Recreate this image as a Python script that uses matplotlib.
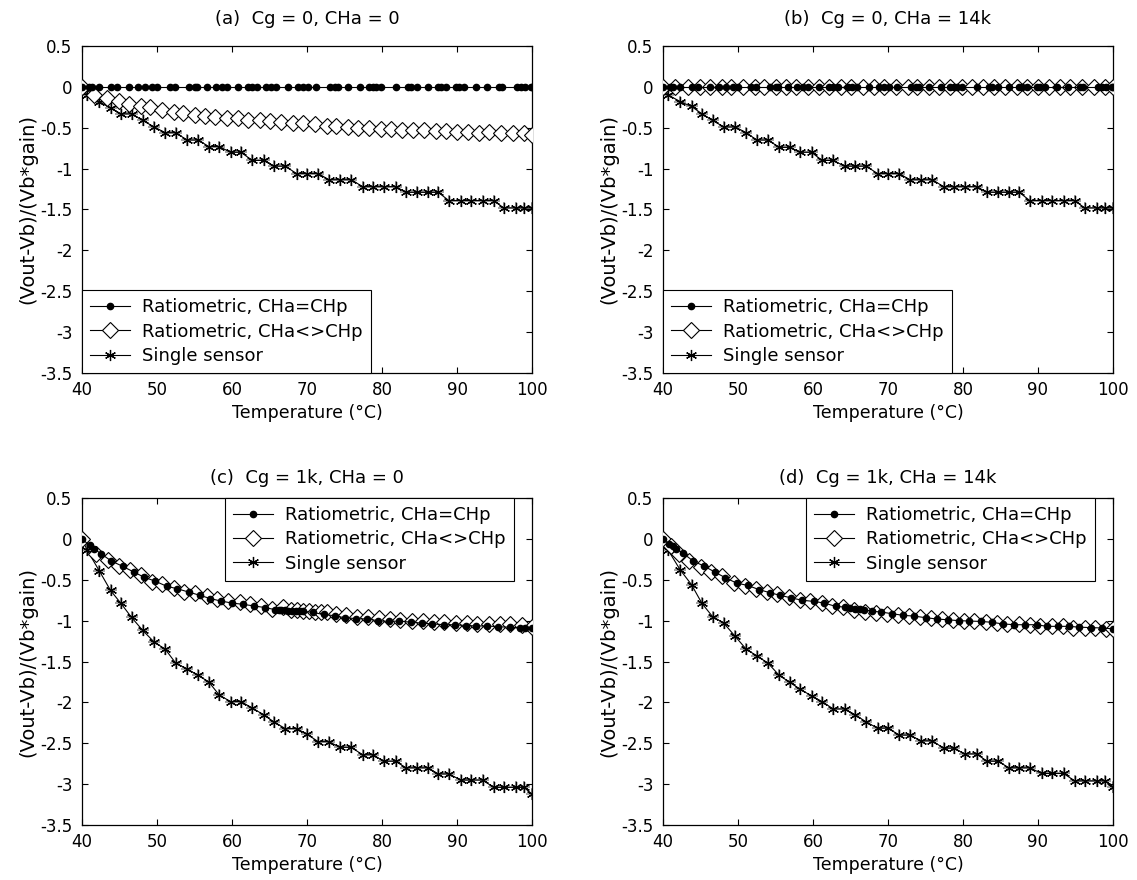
import numpy as np
import matplotlib
matplotlib.use('Agg')
import matplotlib.pyplot as plt

# temperatures of the single sensor samples (same grid in all four panels)
T_single = [40.0, 40.7, 42.3, 43.8, 45.2, 46.6, 48.1, 49.6, 51.1, 52.5,
            54.0, 55.5, 56.9, 58.3, 59.8, 61.2, 62.7, 64.2, 65.6, 67.1,
            68.6, 70.0, 71.5, 72.9, 74.4, 75.9, 77.4, 78.8, 80.2, 81.8,
            83.2, 84.7, 86.1, 87.5, 88.9, 90.5, 91.9, 93.4, 94.9, 96.2,
            97.8, 98.9, 100.0]

single_a = [0.0, -0.10, -0.18, -0.26, -0.33, -0.33, -0.41, -0.49, -0.56, -0.56,
            -0.65, -0.65, -0.73, -0.73, -0.80, -0.80, -0.90, -0.90, -0.97, -0.97,
            -1.06, -1.06, -1.06, -1.135, -1.135, -1.135, -1.22, -1.22, -1.22, -1.22,
            -1.29, -1.29, -1.29, -1.29, -1.39, -1.39, -1.39, -1.39, -1.39, -1.48,
            -1.48, -1.48, -1.48]
single_b = [0.0, -0.10, -0.18, -0.24, -0.33, -0.41, -0.49, -0.49, -0.56, -0.65,
            -0.65, -0.74, -0.74, -0.80, -0.80, -0.90, -0.90, -0.97, -0.97, -0.97,
            -1.06, -1.06, -1.06, -1.135, -1.135, -1.135, -1.22, -1.22, -1.22, -1.22,
            -1.29, -1.29, -1.29, -1.29, -1.39, -1.39, -1.39, -1.39, -1.39, -1.48,
            -1.48, -1.48, -1.48]
single_c = [0.0, -0.14, -0.39, -0.63, -0.79, -0.96, -1.12, -1.26, -1.35, -1.52,
            -1.59, -1.67, -1.75, -1.91, -1.99, -1.99, -2.07, -2.15, -2.24, -2.32,
            -2.32, -2.39, -2.48, -2.48, -2.55, -2.55, -2.64, -2.64, -2.72, -2.72,
            -2.80, -2.80, -2.80, -2.875, -2.875, -2.95, -2.95, -2.95, -3.04, -3.04,
            -3.04, -3.04, -3.12]
single_d = [0.0, -0.14, -0.38, -0.56, -0.79, -0.95, -1.03, -1.19, -1.35, -1.43,
            -1.52, -1.67, -1.755, -1.84, -1.92, -1.99, -2.08, -2.08, -2.15, -2.24,
            -2.315, -2.315, -2.40, -2.40, -2.47, -2.47, -2.56, -2.56, -2.63, -2.63,
            -2.72, -2.72, -2.80, -2.80, -2.80, -2.87, -2.87, -2.87, -2.96, -2.96,
            -2.96, -2.96, -3.03]

# ratiometric, CHa=CHp (dots)
T_dot_ab = [40.0, 40.9, 41.3, 42.2, 43.8, 44.7, 46.2, 47.5, 48.4, 49.3,
            50.0, 51.7, 52.4, 54.2, 55.1, 55.3, 56.6, 57.9, 58.6, 59.3,
            60.8, 62.1, 62.6, 63.3, 64.6, 65.2, 65.9, 67.5, 68.8, 69.5,
            70.1, 71.2, 73.0, 73.7, 74.1, 75.4, 77.0, 78.3, 78.8, 79.2,
            79.9, 81.9, 83.4, 83.8, 84.7, 86.1, 87.4, 87.8, 88.5, 89.8,
            90.3, 90.9, 92.5, 94.0, 95.6, 96.0, 98.0, 98.5, 99.1, 99.8,
            100.0]
dot_ab = [0.0, 0.0, 0.0, 0.0, 0.0, 0.0, 0.0, 0.0, 0.0, 0.0,
          0.0, 0.0, 0.0, 0.0, 0.0, 0.0, 0.0, 0.0, 0.0, 0.0,
          0.0, 0.0, 0.0, 0.0, 0.0, 0.0, 0.0, 0.0, 0.0, 0.0,
          0.0, 0.0, 0.0, 0.0, 0.0, 0.0, 0.0, 0.0, 0.0, 0.0,
          0.0, 0.0, 0.0, 0.0, 0.0, 0.0, 0.0, 0.0, 0.0, 0.0,
          0.0, 0.0, 0.0, 0.0, 0.0, 0.0, 0.0, 0.0, 0.0, 0.0,
          0.0]
T_dot_c = [40.0, 41.0, 41.6, 42.5, 43.9, 45.4, 46.9, 48.3, 49.7, 51.3,
           52.7, 54.2, 55.7, 57.1, 58.5, 60.0, 61.4, 62.9, 64.4, 65.7,
           66.2, 66.6, 67.0, 67.5, 68.0, 68.5, 69.0, 69.5, 70.8, 72.2,
           73.7, 75.0, 76.5, 78.0, 79.4, 80.9, 82.3, 83.9, 85.3, 86.7,
           88.3, 89.7, 91.2, 92.5, 94.0, 95.5, 97.0, 98.4, 99.1, 100.0]
dot_c = [0.0, -0.08, -0.12, -0.18, -0.27, -0.335, -0.405, -0.47, -0.515, -0.58,
         -0.61, -0.65, -0.69, -0.73, -0.76, -0.785, -0.80, -0.82, -0.84, -0.865,
         -0.87, -0.875, -0.875, -0.88, -0.88, -0.885, -0.885, -0.885, -0.90, -0.925,
         -0.94, -0.965, -0.975, -0.98, -1.00, -1.01, -1.005, -1.02, -1.03, -1.04,
         -1.05, -1.05, -1.06, -1.065, -1.065, -1.075, -1.08, -1.09, -1.09, -1.095]
T_dot_d = [40.0, 40.8, 41.3, 41.7, 42.6, 44.0, 45.4, 46.9, 48.3, 49.8,
           51.3, 52.8, 54.3, 55.6, 57.0, 58.5, 60.1, 61.5, 63.0, 64.3,
           64.9, 65.6, 66.3, 66.8, 67.8, 69.1, 70.5, 72.0, 73.5, 75.1,
           76.5, 78.0, 79.4, 80.8, 82.4, 83.8, 85.3, 86.8, 88.2, 89.8,
           91.2, 92.7, 94.1, 95.5, 97.0, 98.5, 100.0]
dot_d = [0.0, -0.065, -0.09, -0.12, -0.17, -0.27, -0.33, -0.405, -0.475, -0.54,
         -0.57, -0.62, -0.66, -0.69, -0.72, -0.75, -0.765, -0.785, -0.825, -0.835,
         -0.845, -0.855, -0.86, -0.865, -0.885, -0.895, -0.915, -0.935, -0.945, -0.965,
         -0.98, -0.99, -1.00, -1.005, -1.01, -1.02, -1.04, -1.05, -1.05, -1.05,
         -1.07, -1.07, -1.07, -1.08, -1.085, -1.09, -1.10]

# ratiometric, CHa<>CHp (diamonds)
T_dia_ab = [40.0, 41.6, 43.3, 44.9, 46.2, 47.8, 49.1, 50.6, 52.2, 53.5,
            55.1, 56.4, 57.7, 59.3, 60.8, 62.1, 63.7, 65.0, 66.6, 68.1,
            69.5, 71.0, 72.6, 73.9, 75.4, 76.8, 78.3, 79.9, 81.2, 82.7,
            84.1, 85.6, 87.2, 88.5, 90.0, 91.4, 92.9, 94.3, 95.8, 97.4,
            98.9, 100.0]
dia_a = [0.0, -0.10, -0.13, -0.17, -0.21, -0.24, -0.25, -0.28, -0.31, -0.32,
         -0.34, -0.36, -0.37, -0.38, -0.38, -0.40, -0.40, -0.42, -0.43, -0.44,
         -0.44, -0.46, -0.48, -0.48, -0.49, -0.50, -0.50, -0.51, -0.52, -0.53,
         -0.53, -0.53, -0.54, -0.54, -0.55, -0.55, -0.56, -0.55, -0.56, -0.57,
         -0.56, -0.59]
dia_b = [0.0, 0.0, 0.0, 0.0, 0.0, 0.0, 0.0, 0.0, 0.0, 0.0,
         0.0, 0.0, 0.0, 0.0, 0.0, 0.0, 0.0, 0.0, 0.0, 0.0,
         0.0, 0.0, 0.0, 0.0, 0.0, 0.0, 0.0, 0.0, 0.0, 0.0,
         0.0, 0.0, 0.0, 0.0, 0.0, 0.0, 0.0, 0.0, 0.0, 0.0,
         0.0, 0.0]
T_dia_c = [40.0, 41.9, 43.4, 44.9, 46.4, 47.8, 49.3, 50.7, 52.2, 53.6,
           55.1, 56.6, 58.0, 59.5, 61.0, 62.4, 63.9, 65.3, 66.8, 67.8,
           68.6, 69.4, 70.2, 71.0, 71.8, 72.6, 73.8, 75.2, 76.7, 78.1,
           79.6, 81.0, 82.4, 84.0, 85.4, 86.9, 88.3, 89.8, 91.3, 92.7,
           94.2, 95.7, 97.1, 98.6, 100.0]
dia_c = [0.0, -0.18, -0.26, -0.335, -0.375, -0.44, -0.53, -0.55, -0.60, -0.65,
         -0.66, -0.70, -0.73, -0.765, -0.775, -0.80, -0.815, -0.855, -0.835, -0.87,
         -0.875, -0.88, -0.885, -0.89, -0.895, -0.90, -0.915, -0.935, -0.95, -0.955,
         -0.97, -0.98, -0.99, -1.00, -1.01, -1.015, -1.02, -1.025, -1.03, -1.04,
         -1.04, -1.045, -1.045, -1.05, -1.08]
T_dia_d = [40.0, 41.1, 42.1, 43.5, 45.0, 46.4, 47.9, 49.4, 50.9, 52.4,
           53.8, 55.2, 56.8, 58.2, 59.6, 61.2, 62.5, 64.0, 65.5, 66.9,
           68.4, 69.9, 71.3, 72.8, 74.2, 75.7, 77.2, 78.6, 80.1, 81.5,
           83.0, 84.5, 85.9, 87.4, 88.9, 90.3, 91.9, 93.3, 94.7, 96.2,
           97.6, 99.0, 100.0]
dia_d = [0.0, -0.09, -0.19, -0.27, -0.345, -0.41, -0.46, -0.54, -0.58, -0.61,
         -0.65, -0.68, -0.71, -0.75, -0.765, -0.79, -0.815, -0.835, -0.865, -0.89,
         -0.905, -0.925, -0.935, -0.94, -0.95, -0.97, -0.98, -0.99, -1.00, -1.005,
         -1.02, -1.03, -1.04, -1.04, -1.05, -1.06, -1.065, -1.07, -1.09, -1.09,
         -1.095, -1.10, -1.10]

titles = ['(a)  Cg = 0, CHa = 0', '(b)  Cg = 0, CHa = 14k',
          '(c)  Cg = 1k, CHa = 0', '(d)  Cg = 1k, CHa = 14k']
series_names = ['Ratiometric, CHa=CHp', 'Ratiometric, CHa<>CHp', 'Single sensor']
x_ticks = [40, 50, 60, 70, 80, 90, 100]
y_ticks = [-3.5, -3, -2.5, -2, -1.5, -1, -0.5, 0, 0.5]
y_ticklabels = ['-3.5', '-3', '-2.5', '-2', '-1.5', '-1', '-0.5', '0', '0.5']
x_label = 'Temperature (\u00b0C)'
y_label = '(Vout-Vb)/(Vb*gain)'

panels = [
    (T_dot_ab, dot_ab, T_dia_ab, dia_a, single_a, 'lower left'),
    (T_dot_ab, dot_ab, T_dia_ab, dia_b, single_b, 'lower left'),
    (T_dot_c, dot_c, T_dia_c, dia_c, single_c, 'upper right'),
    (T_dot_d, dot_d, T_dia_d, dia_d, single_d, 'upper right'),
]

plt.rcParams['font.family'] = ['DejaVu Sans']

W, H = 1137, 880
fig = plt.figure(figsize=(W / 100, H / 100), dpi=100)
fig.patch.set_facecolor('white')

# axes boxes in pixels: left, top, width, height
boxes = [(82, 46, 450, 327), (663, 46, 450, 327),
         (82, 498, 450, 327), (663, 498, 450, 327)]
title_pads = [16, 16, 11, 11]

for i in range(4):
    l, t, w, h = boxes[i]
    ax = fig.add_axes([l / W, 1 - (t + h) / H, w / W, h / H])
    Td, vd, Tdi, vdi, vs, loc = panels[i]

    # grey shadow crosses under the asterisks (as in the printed figure)
    ax.plot(T_single, vs, linestyle='none', marker='+', markersize=9,
            color='0.6', markeredgewidth=1.3, zorder=1)
    h3, = ax.plot(T_single, vs, color='black', linewidth=0.8,
                  marker=(6, 2, 0), markersize=8, markeredgewidth=0.9, zorder=2)
    h2, = ax.plot(Tdi, vdi, color='black', linewidth=0.8, marker='D',
                  markersize=8, markerfacecolor='white', markeredgecolor='black',
                  markeredgewidth=0.8, zorder=3)
    h1, = ax.plot(Td, vd, color='black', linewidth=0.8, marker='o',
                  markersize=4.5, zorder=4)

    ax.set_xlim(40, 100)
    ax.set_ylim(-3.5, 0.5)
    ax.set_xticks(x_ticks)
    ax.set_xticklabels([str(x) for x in x_ticks])
    ax.set_yticks(y_ticks)
    ax.set_yticklabels(y_ticklabels)
    ax.tick_params(direction='in', length=4, width=0.8, top=True, right=True,
                   labelsize=12)
    ax.tick_params(axis='x', pad=6)
    ax.tick_params(axis='y', pad=7)
    for sp in ax.spines.values():
        sp.set_linewidth(0.9)
    ax.set_title(titles[i], fontsize=13, pad=title_pads[i])
    ax.set_xlabel(x_label, fontsize=12.5, labelpad=3)
    ax.set_ylabel(y_label, fontsize=14, labelpad=2)

    if loc == 'lower left':
        leg = ax.legend([h1, h2, h3], series_names, loc='lower left',
                        borderaxespad=0, fontsize=13, handlelength=2.2,
                        handletextpad=0.7, labelspacing=0.35, borderpad=0.45,
                        fancybox=False)
    else:
        leg = ax.legend([h1, h2, h3], series_names, loc='upper right',
                        bbox_to_anchor=(1 - 18 / 450, 1), borderaxespad=0,
                        fontsize=13, handlelength=2.2, handletextpad=0.7,
                        labelspacing=0.35, borderpad=0.45, fancybox=False)
    leg.get_frame().set_edgecolor('black')
    leg.get_frame().set_linewidth(0.8)
    leg.get_frame().set_alpha(1)
    leg.set_zorder(10)

fig.savefig('out.png', dpi=100, facecolor='white')
